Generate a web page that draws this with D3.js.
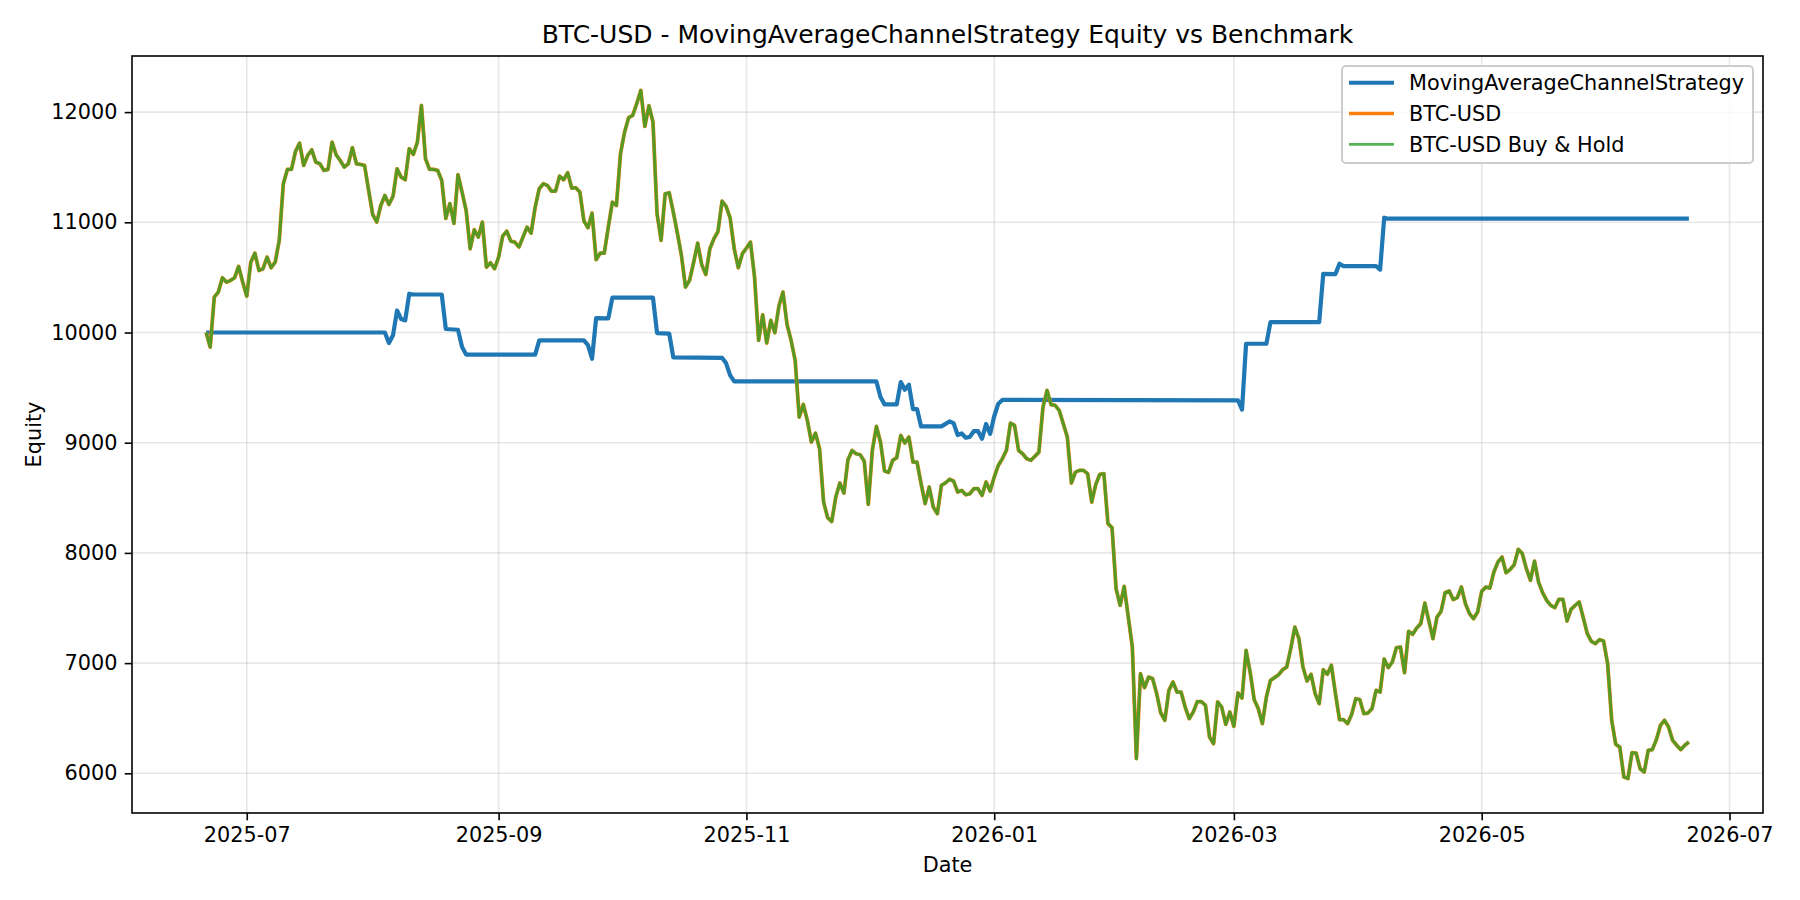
<!DOCTYPE html>
<html>
<head>
<meta charset="utf-8">
<script src="https://cdn.jsdelivr.net/npm/d3@7"></script>
<style>
  body { margin: 0; background: #fff; }
  text { font-family: "DejaVu Sans", sans-serif; }
</style>
</head>
<body>
<div id="chart"></div>
<script>
// first trading day of the backtest; benchmark values are one per day from here
const START_DATE = "2025-06-21";

// strategy equity: day offset of each change point and the equity there
const strategyDays = [0, 44, 45, 46, 47, 48, 49, 50, 51, 58, 59, 62, 63, 64, 81, 82, 93, 94, 95, 96,
  99, 100, 110, 111, 114, 115, 127, 128, 129, 130, 165, 166, 167, 170, 171, 172, 173, 174, 175, 176,
  181, 183, 184, 185, 186, 187, 188, 189, 190, 191, 192, 193, 194, 195, 196, 254, 255, 256, 261, 262,
  274, 275, 278, 279, 280, 288, 289, 290, 291, 365];
const strategyEquity = [10000, 10000, 9905, 9975, 10200, 10122, 10110, 10352, 10345, 10345, 10032, 10025, 9868, 9800, 9800, 9928, 9928, 9885, 9762, 10130,
  10128, 10316, 10316, 9995, 9990, 9775, 9770, 9720, 9611, 9556, 9556, 9414, 9348, 9348, 9550, 9481, 9526, 9305, 9305, 9148,
  9148, 9193, 9178, 9070, 9084, 9045, 9053, 9106, 9106, 9036, 9170, 9080, 9240, 9354, 9388, 9385, 9300, 9898, 9898, 10094,
  10094, 10533, 10530, 10624, 10603, 10603, 10570, 11042, 11033, 11033];

// BTC-USD buy & hold equity, one value per day
const benchEquity = [
  10000, 9868, 10321, 10367, 10497, 10457, 10473, 10497, 10600, 10457,
  10330, 10639, 10720, 10563, 10579, 10684, 10588, 10639, 10836, 11350,
  11480, 11480, 11643, 11718, 11516, 11607, 11658, 11546, 11531, 11471,
  11480, 11727, 11613, 11561, 11501, 11531, 11677, 11531, 11525, 11516,
  11290, 11071, 11002, 11153, 11244, 11162, 11235, 11486, 11410, 11386,
  11668, 11616, 11727, 12060, 11577, 11480, 11480, 11471, 11380, 11035,
  11170, 10990, 11432, 11274, 11108, 10760, 10933, 10866, 11002, 10593,
  10633, 10579, 10684, 10875, 10920, 10829, 10820, 10775, 10866, 10956,
  10902, 11138, 11305, 11350, 11335, 11283, 11283, 11419, 11386, 11450,
  11310, 11314, 11274, 11011, 10951, 11083, 10661, 10720, 10720, 10956,
  11183, 11153, 11622, 11818, 11949, 11970, 12076, 12197, 11870, 12058,
  11909, 11078, 10836, 11259, 11268, 11093, 10902, 10700, 10412, 10473,
  10635, 10811, 10615, 10527, 10760, 10851, 10917, 11192, 11144, 11038,
  10760, 10588, 10715, 10766, 10820, 10503, 9928, 10161, 9904, 10110,
  9998, 10240, 10367, 10073, 9928, 9747, 9232, 9348, 9202, 9006,
  9087, 8946, 8461, 8320, 8285, 8507, 8634, 8543, 8846, 8930,
  8900, 8891, 8833, 8440, 8930, 9148, 9006, 8743, 8731, 8840,
  8864, 9066, 8997, 9051, 8824, 8824, 8628, 8447, 8597, 8416,
  8356, 8613, 8635, 8668, 8652, 8552, 8567, 8528, 8537, 8583,
  8583, 8522, 8643, 8561, 8688, 8794, 8855, 8930, 9178, 9157,
  8930, 8900, 8855, 8840, 8876, 8915, 9323, 9475, 9345, 9339,
  9293, 9172, 9051, 8634, 8733, 8749, 8749, 8719, 8461, 8622,
  8713, 8719, 8265, 8229, 7675, 7524, 7696, 7418, 7146, 6133,
  6904, 6777, 6873, 6859, 6723, 6547, 6481, 6753, 6828, 6737,
  6737, 6601, 6496, 6556, 6650, 6650, 6617, 6329, 6269, 6647,
  6601, 6444, 6556, 6426, 6729, 6683, 7116, 6919, 6668, 6587,
  6451, 6692, 6843, 6868, 6895, 6940, 6964, 7131, 7327, 7222,
  6964, 6837, 6898, 6723, 6632, 6940, 6898, 6980, 6723, 6487,
  6487, 6451, 6535, 6677, 6668, 6541, 6547, 6587, 6753, 6737,
  7037, 6959, 7010, 7140, 7146, 6913, 7288, 7261, 7318, 7358,
  7545, 7382, 7222, 7418, 7470, 7640, 7654, 7576, 7594, 7690,
  7539, 7449, 7403, 7463, 7651, 7690, 7681, 7826, 7917, 7962,
  7820, 7850, 7893, 8032, 7993, 7857, 7751, 7926, 7735, 7639,
  7569, 7524, 7503, 7578, 7578, 7382, 7488, 7524, 7554, 7412,
  7267, 7197, 7176, 7213, 7200, 6995, 6481, 6263, 6238, 5966,
  5952, 6187, 6184, 6042, 6012, 6208, 6215, 6305, 6435, 6481,
  6420, 6299, 6254, 6215, 6254, 6284
];

const yTicks = [6000, 7000, 8000, 9000, 10000, 11000, 12000];
const seriesNames = ["MovingAverageChannelStrategy", "BTC-USD", "BTC-USD Buy & Hold"];
const seriesColors = ["#1f77b4", "#ff7f0e", "#2ca02c"];

const width = 1800, height = 900;
const margin = { top: 56, right: 37, bottom: 87, left: 132 };
const FS = 20.8; // 10pt at 150 dpi

const start = d3.timeParse("%Y-%m-%d")(START_DATE);
const strategy = strategyDays.map((d, i) => ({ date: d3.timeDay.offset(start, d), v: strategyEquity[i] }));
const bench = benchEquity.map((v, i) => ({ date: d3.timeDay.offset(start, i), v }));

const svg = d3.select("#chart").append("svg")
  .attr("width", width)
  .attr("height", height);

// matplotlib style 5% padding around the data
const xExt = d3.extent(bench, d => d.date);
const xPad = (xExt[1] - xExt[0]) * 0.05;
const allV = strategyEquity.concat(benchEquity);
const yExt = d3.extent(allV);
const yPad = (yExt[1] - yExt[0]) * 0.05;

const x = d3.scaleTime()
  .domain([new Date(+xExt[0] - xPad), new Date(+xExt[1] + xPad)])
  .range([margin.left, width - margin.right]);
const y = d3.scaleLinear()
  .domain([yExt[0] - yPad, yExt[1] + yPad])
  .range([height - margin.bottom, margin.top]);

const xTicks = x.ticks(d3.timeMonth.every(2));

// --- grid ---
const grid = svg.append("g").attr("stroke", "#b0b0b0").attr("stroke-opacity", 0.3).attr("stroke-width", 1.6);
grid.selectAll("line.gx").data(xTicks).enter().append("line")
  .attr("x1", d => x(d)).attr("x2", d => x(d))
  .attr("y1", margin.top).attr("y2", height - margin.bottom);
grid.selectAll("line.gy").data(yTicks).enter().append("line")
  .attr("y1", d => y(d)).attr("y2", d => y(d))
  .attr("x1", margin.left).attr("x2", width - margin.right);

// --- lines ---
const lineWidths = [4.2, 3.8, 3.1];
const lineOpacity = [1, 1, 0.8];
const line = d3.line().x(d => x(d.date)).y(d => y(d.v));

[strategy, bench, bench].forEach((data, i) => {
  svg.append("path").datum(data)
    .attr("d", line).attr("fill", "none")
    .attr("stroke", seriesColors[i])
    .attr("stroke-width", lineWidths[i])
    .attr("stroke-opacity", lineOpacity[i])
    .attr("stroke-linejoin", "round");
});

// --- axes ---
const xAxis = d3.axisBottom(x)
  .tickValues(xTicks)
  .tickFormat(d3.timeFormat("%Y-%m"))
  .tickSize(7.3).tickPadding(7.3).tickSizeOuter(0);
const gx = svg.append("g")
  .attr("transform", `translate(0,${height - margin.bottom})`)
  .call(xAxis);
gx.select(".domain").remove();

const yAxis = d3.axisLeft(y)
  .tickValues(yTicks)
  .tickFormat(d3.format("d"))
  .tickSize(7.3).tickPadding(7.3).tickSizeOuter(0);
const gy = svg.append("g")
  .attr("transform", `translate(${margin.left},0)`)
  .call(yAxis);
gy.select(".domain").remove();

svg.selectAll(".tick line").attr("stroke", "#000").attr("stroke-width", 1.6);
svg.selectAll(".tick text")
  .attr("fill", "#000")
  .style("font-size", FS + "px")
  .style("font-family", "'DejaVu Sans', sans-serif");

// spines
svg.append("rect")
  .attr("x", margin.left).attr("y", margin.top)
  .attr("width", width - margin.left - margin.right)
  .attr("height", height - margin.top - margin.bottom)
  .attr("fill", "none").attr("stroke", "#000").attr("stroke-width", 1.6);

// --- titles ---
const cx = (margin.left + width - margin.right) / 2;
svg.append("text")
  .attr("x", cx).attr("y", 43)
  .attr("text-anchor", "middle")
  .style("font-size", "25px")
  .text("BTC-USD - MovingAverageChannelStrategy Equity vs Benchmark");

svg.append("text")
  .attr("x", cx).attr("y", 872)
  .attr("text-anchor", "middle")
  .style("font-size", FS + "px")
  .text("Date");

svg.append("text")
  .attr("transform", `translate(41,${(margin.top + height - margin.bottom) / 2}) rotate(-90)`)
  .attr("text-anchor", "middle")
  .style("font-size", FS + "px")
  .text("Equity");

// --- legend ---
const lg = svg.append("g").attr("transform", `translate(1342,66)`);
lg.append("rect")
  .attr("width", 411).attr("height", 97)
  .attr("rx", 4).attr("ry", 4)
  .attr("fill", "#fff").attr("fill-opacity", 0.8)
  .attr("stroke", "#cccccc").attr("stroke-width", 2);

const legendWidths = [4, 3.3, 2.7];
seriesNames.forEach((name, i) => {
  const ly = 16.7 + i * 30.8;
  lg.append("line")
    .attr("x1", 7).attr("x2", 52)
    .attr("y1", ly).attr("y2", ly)
    .attr("stroke", seriesColors[i])
    .attr("stroke-width", legendWidths[i])
    .attr("stroke-opacity", lineOpacity[i]);
  lg.append("text")
    .attr("x", 67).attr("y", ly)
    .attr("dy", "0.35em")
    .style("font-size", FS + "px")
    .text(name);
});
</script>
</body>
</html>
